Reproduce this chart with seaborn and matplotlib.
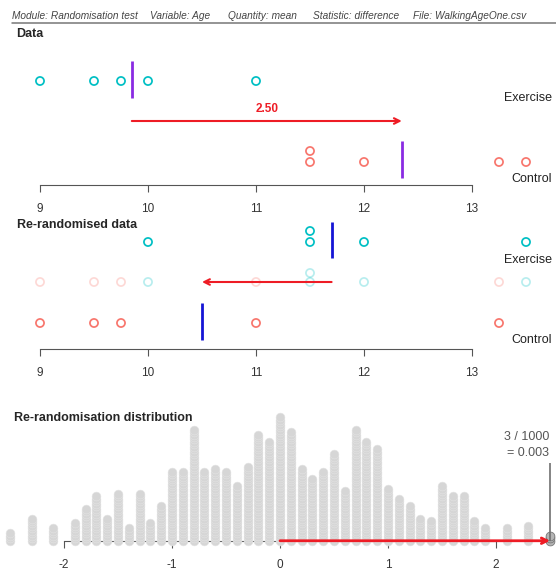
import numpy as np
import pandas as pd
import matplotlib
matplotlib.use("Agg")
import matplotlib.pyplot as plt
import seaborn as sns
from matplotlib.lines import Line2D

# ages (months) in the original data
exercise_age = [9.0, 9.5, 9.75, 10.0, 11.0]
control_age = [11.5, 11.5, 12.0, 13.25, 13.5]

# one re-randomisation of the same ages
rerand_exercise = [10.0, 11.5, 11.5, 12.0, 13.5]
rerand_control = [9.0, 9.5, 9.75, 11.0, 13.25]

# re-randomisation distribution of the difference (1000 re-randomisations)
diff_values = [-2.5, -2.3, -2.1, -1.9, -1.8, -1.7, -1.6, -1.5, -1.4, -1.3, -1.2, -1.1,
               -1.0, -0.9, -0.8, -0.7, -0.6, -0.5, -0.4, -0.3, -0.2, -0.1,
               0.0, 0.1, 0.2, 0.3, 0.4, 0.5, 0.6, 0.7, 0.8, 0.9,
               1.0, 1.1, 1.2, 1.3, 1.4, 1.5, 1.6, 1.7, 1.8, 1.9, 2.1, 2.3, 2.5]
diff_counts = [4, 10, 6, 8, 14, 19, 10, 20, 6, 20, 8, 15,
               29, 29, 46, 29, 30, 29, 23, 31, 44, 41,
               51, 45, 30, 26, 29, 36, 21, 46, 41, 38,
               22, 18, 15, 10, 9, 23, 19, 19, 9, 6, 6, 7, 3]
n_rerand = 1000

header_items = ["Module: Randomisation test", "Variable: Age", "Quantity: mean",
                "Statistic: difference", "File: WalkingAgeOne.csv"]
header_x = [12, 150, 228, 313, 413]

data_ticks = [9, 10, 11, 12, 13]
dist_ticks = [-2, -1, 0, 1, 2]

EX_COL = "#00BFC4"
CO_COL = "#F8766D"
ARROW_COL = "#EE1C25"
AXIS_COL = "#555555"

sns.set_style("white")
plt.rcParams["font.family"] = ["Liberation Sans", "DejaVu Sans"]
plt.rcParams["axes.unicode_minus"] = False

W, H = 556, 572
fig = plt.figure(figsize=(W / 100, H / 100), dpi=100)


def panel(top, bottom):
    ax = fig.add_axes([0, 1 - bottom / H, 1, (bottom - top) / H])
    ax.patch.set_alpha(0)
    for s in ["top", "left", "right"]:
        ax.spines[s].set_visible(False)
    ax.spines["bottom"].set_color(AXIS_COL)
    ax.spines["bottom"].set_linewidth(0.8)
    ax.set_yticks([])
    ax.tick_params(axis="x", direction="out", length=5, width=0.8, color=AXIS_COL,
                   labelsize=8.5, labelcolor="#333333", pad=8, bottom=True)
    return ax


def ftext(x, y, s, **kw):
    fig.text(x / W, 1 - y / H, s, va="center", **kw)


def stack(values, base, step=11):
    ys, seen = [], {}
    for v in values:
        k = seen.get(v, 0)
        ys.append(base - k * step)
        seen[v] = k + 1
    return ys


def dots(ax, xs, ys, col, alpha=1.0):
    sns.scatterplot(x=xs, y=ys, ax=ax, marker="o", s=34, facecolor="none",
                    edgecolor=col, linewidth=1.25, alpha=alpha, legend=False,
                    clip_on=False)


def arrow(ax, x0, x1, y, lw=1.5):
    ax.annotate("", xy=(x1, y), xytext=(x0, y),
                arrowprops=dict(arrowstyle="->", color=ARROW_COL, lw=lw,
                                shrinkA=0, shrinkB=0, mutation_scale=10),
                zorder=5, annotation_clip=False)


# header
for s, x in zip(header_items, header_x):
    ftext(x, 16, s, fontsize=7.3, style="italic", color="#444444")
fig.add_artist(Line2D([12 / W, 1], [1 - 23 / H] * 2, color="#777777", lw=1.1))

xlim_data = (9 - 40 / 108, 9 + 516 / 108)

# ---- Data
ax1 = panel(28, 185)
ax1.set_xlim(*xlim_data)
ax1.set_ylim(185, 28)
ax1.spines["bottom"].set_bounds(9, 13)
ax1.set_xticks(data_ticks)
dots(ax1, exercise_age, stack(exercise_age, 81), EX_COL)
dots(ax1, control_age, stack(control_age, 162), CO_COL)
m_ex, m_co = np.mean(exercise_age), np.mean(control_age)
ax1.vlines(m_ex, 61, 98, color="#8A2BE2", lw=2)
ax1.vlines(m_co, 141, 178, color="#8A2BE2", lw=2)
arrow(ax1, m_ex, m_co, 121)
ax1.text((m_ex + m_co) / 2, 109, f"{m_co - m_ex:.2f}", ha="center", va="center",
         fontsize=8.5, fontweight="bold", color=ARROW_COL)
ftext(16, 34, "Data", fontsize=9, fontweight="bold")
ftext(552, 98, "Exercise", fontsize=9, ha="right", color="#222222")
ftext(552, 179, "Control", fontsize=9, ha="right", color="#222222")

# ---- Re-randomised data
ax2 = panel(215, 349)
ax2.set_xlim(*xlim_data)
ax2.set_ylim(349, 215)
ax2.spines["bottom"].set_bounds(9, 13)
ax2.set_xticks(data_ticks)
dots(ax2, rerand_exercise, stack(rerand_exercise, 242), EX_COL)
dots(ax2, rerand_control, stack(rerand_control, 323), CO_COL)
faded = rerand_exercise + rerand_control
faded_y = stack(faded, 282, step=9)
dots(ax2, rerand_exercise, faded_y[:5], EX_COL, alpha=0.28)
dots(ax2, rerand_control, faded_y[5:], CO_COL, alpha=0.28)
r_ex, r_co = np.mean(rerand_exercise), np.mean(rerand_control)
ax2.vlines(r_ex, 222, 258, color="#1515D5", lw=2)
ax2.vlines(r_co, 303, 340, color="#1515D5", lw=2)
arrow(ax2, r_ex, r_co, 282)
ftext(17, 225, "Re-randomised data", fontsize=9, fontweight="bold")
ftext(552, 260, "Exercise", fontsize=9, ha="right", color="#222222")
ftext(552, 340, "Control", fontsize=9, ha="right", color="#222222")

# ---- Re-randomisation distribution
ax3 = panel(405, 540.75)
ax3.set_xlim(-280 / 108, 276 / 108)
ax3.set_ylim(0, (540.75 - 405) / 2.47)
ax3.spines["bottom"].set_bounds(-2, 2)
ax3.set_xticks(dist_ticks)

observed = m_co - m_ex
rows = []
for v, n in zip(diff_values, diff_counts):
    for k in range(n):
        rows.append((v, k, v >= observed - 1e-9))
dist = pd.DataFrame(rows, columns=["diff", "level", "tail"])
body = dist[~dist["tail"]]
tail = dist[dist["tail"]]
sns.scatterplot(data=body, x="diff", y="level", ax=ax3, marker="o", s=40,
                color="#D6D6D6", edgecolor="#E3E3E3", linewidth=0.4,
                legend=False, clip_on=False, zorder=3)
sns.scatterplot(data=tail, x="diff", y="level", ax=ax3, marker="o", s=40,
                color="#B4B4B4", edgecolor="#777777", linewidth=0.6,
                legend=False, clip_on=False, zorder=3)
ax3.vlines(observed, 0, (540.75 - 463) / 2.47, color="#707070", lw=1.2, zorder=4)
arrow(ax3, 0, observed, 0, lw=2)
ax3.set_xlabel("")
ax3.set_ylabel("")
ftext(14, 418, "Re-randomisation distribution", fontsize=9, fontweight="bold")
ftext(549, 437, f"{len(tail)} / {n_rerand}", fontsize=9, ha="right", color="#555555")
ftext(549, 453, f"= {len(tail) / n_rerand:.3f}", fontsize=9, ha="right", color="#555555")

for ax in (ax1, ax2):
    ax.set_xlabel("")
    ax.set_ylabel("")

fig.savefig("out.png", dpi=100)
